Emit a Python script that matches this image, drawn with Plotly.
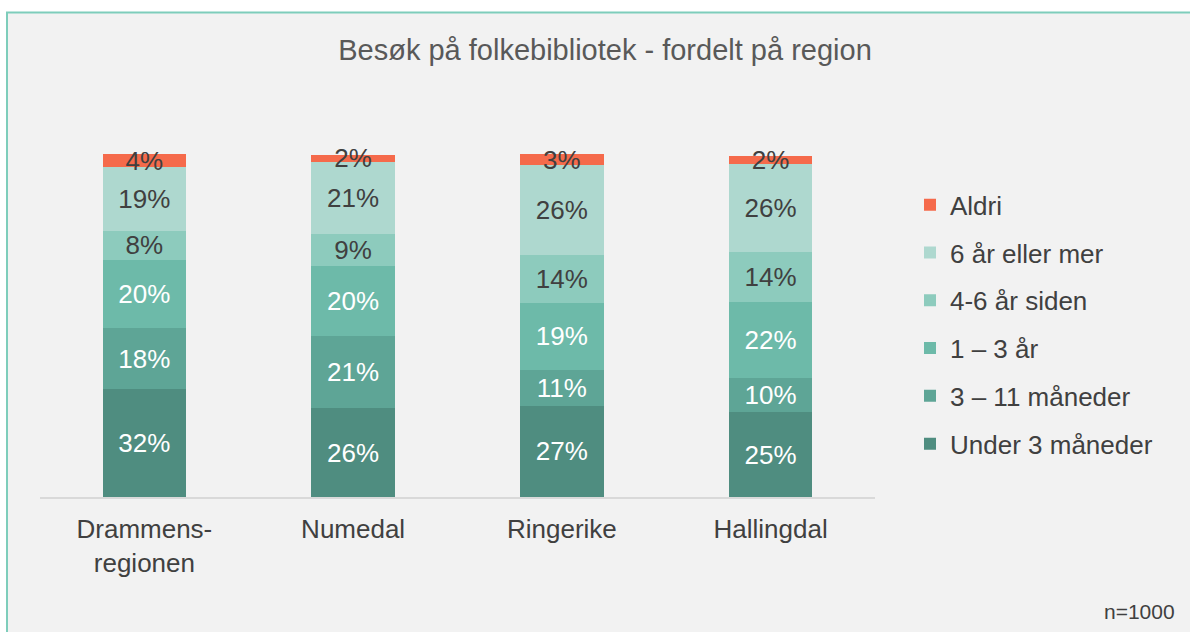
import plotly.graph_objects as go

regions = ["Drammens-<br>regionen", "Numedal", "Ringerike", "Hallingdal"]
series_names = ["Under 3 måneder", "3 – 11 måneder", "1 – 3 år", "4-6 år siden", "6 år eller mer", "Aldri"]
under3 = [31.6, 25.9, 26.6, 24.8]
m3_11 = [17.6, 21.2, 10.6, 9.9]
y1_3 = [20.1, 20.3, 19.4, 22.3]
y4_6 = [8.4, 9.2, 14.0, 14.4]
y6plus = [18.6, 21.2, 26.2, 25.9]
aldri = [3.7, 2.1, 3.2, 2.3]
values = [under3, m3_11, y1_3, y4_6, y6plus, aldri]
colors = ["#4f8d80", "#5ea596", "#6dbaa9", "#8dcbbd", "#aed8cf", "#f56a4b"]
text_colors = ["#ffffff", "#ffffff", "#ffffff", "#404040", "#404040", "#404040"]

FONT = "Liberation Sans, Arial, sans-serif"

fig = go.Figure()
n = len(series_names)
for i, (name, vals, col, tcol) in enumerate(zip(series_names, values, colors, text_colors)):
    fig.add_trace(go.Bar(
        x=regions, y=vals, name=name, marker=dict(color=col, line=dict(width=0)),
        texttemplate="%{y:.0f}%", textposition="inside", insidetextanchor="middle",
        textangle=0, constraintext="none", textfont=dict(color=tcol, size=26, family=FONT),
        cliponaxis=False, legendgroup=name, legendrank=1000 + (n - i), hoverinfo="skip",
    ))

# plot area in pixels: x 40..875; 0 at y=497, 100 at y=154; range to 103
YMAX = 103
unit = (497 - 154) / 100
top_px = 497 - YMAX * unit
L, R, B = 40, 1190 - 875, 632 - 497
T = top_px
pw, ph = 875 - 40, 497 - top_px

def px_x(x):
    return (x - L) / pw

def px_y(y):
    return (497 - y) / ph

fig.update_layout(
    width=1190, height=632,
    margin=dict(l=L, r=R, t=T, b=B, pad=0),
    barmode="stack", bargap=0.6,
    paper_bgcolor="#ffffff", plot_bgcolor="rgba(0,0,0,0)",
    font=dict(family=FONT, color="#404040", size=26),
    title=dict(text="Besøk på folkebibliotek - fordelt på region", x=605 / 1190, xanchor="center",
               y=1 - 50 / 632, yanchor="middle", font=dict(size=29, color="#595959", family=FONT)),
    xaxis=dict(showline=True, linecolor="#d9d9d9", linewidth=2, showgrid=False, ticks="",
               tickfont=dict(size=26, color="#404040"), ticklabelstandoff=8, fixedrange=True),
    yaxis=dict(range=[0, YMAX], visible=False, showgrid=False, fixedrange=True),
    legend=dict(traceorder="grouped", x=px_x(910), xanchor="left", y=px_y(181), yanchor="top",
                font=dict(size=26, color="#404040"), tracegroupgap=11, bgcolor="rgba(0,0,0,0)",
                itemwidth=30),
    showlegend=True,
    shapes=[dict(type="rect", xref="paper", yref="paper", layer="below",
                 x0=px_x(7), x1=px_x(1200), y0=px_y(640), y1=px_y(12),
                 fillcolor="#f2f2f2", line=dict(color="#7ecdbb", width=2))],
    annotations=[dict(text="n=1000", xref="paper", yref="paper", x=px_x(1177), y=px_y(612),
                      xanchor="right", yanchor="middle", showarrow=False,
                      font=dict(size=21, color="#404040", family=FONT))],
)

fig.write_html("out.html", config={"displayModeBar": False},
               post_script="document.body.style.margin='0';document.body.style.padding='0';")
